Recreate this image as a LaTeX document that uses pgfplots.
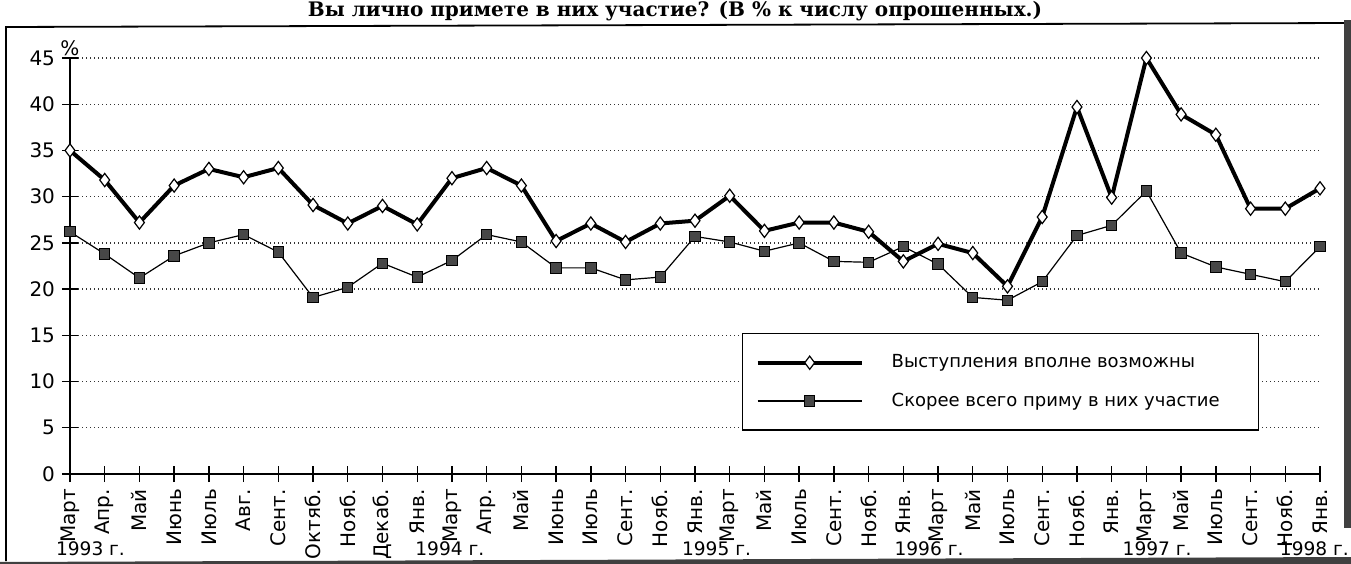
\documentclass[border=0pt]{standalone}
\usepackage{fontspec}
\setmainfont{DejaVu Sans}
\newfontfamily\titlefont{DejaVu Serif}
\usepackage{pgfplots}
\pgfplotsset{compat=1.18}
\begin{document}
\begin{tikzpicture}
\path[use as bounding box] (0,0) rectangle (675.5bp,282bp);
\draw[line width=0.9bp] (3bp,1.5bp) -- (3bp,268.5bp) -- (675.5bp,270.5bp);
\begin{axis}[
  at={(35bp,45bp)}, anchor=south west,
  scale only axis, width=625bp, height=208bp,
  xmin=0, xmax=36, ymin=0, ymax=45,
  axis lines*=left,
  axis line style={line width=0.8bp},
  xtick={0,...,36},
  xticklabels={Март,Апр.,Май,Июнь,Июль,Авг.,Сент.,Октяб.,Нояб.,Декаб.,Янв.,Март,Апр.,Май,Июнь,Июль,Сент.,Нояб.,Янв.,Март,Май,Июль,Сент.,Нояб.,Янв.,Март,Май,Июль,Сент.,Нояб.,Янв.,Март,Май,Июль,Сент.,Нояб.,Янв.},
  x tick label style={rotate=90, anchor=east, font=\fontsize{10bp}{11bp}\selectfont},
  ytick={0,5,...,45},
  y tick label style={font=\fontsize{10bp}{11bp}\selectfont},
  /pgf/number format/assume math mode=true,
  tick align=center, major tick length=8bp,
  tick style={black, line width=0.7bp},
  ymajorgrids,
  grid style={black!80, line width=0.7bp, dash pattern=on 0.7bp off 1.3bp},
  clip=false,
  legend style={at={(0.5376,0.339)}, anchor=north west, draw=black, line width=0.7bp,
    inner xsep=6.5bp, inner ysep=8.5bp, row sep=7bp,
    font=\fontsize{9bp}{11bp}\selectfont},
  legend cell align=left,
  legend image code/.code={\draw[#1, mark repeat=2, mark phase=2] plot coordinates {(0bp,0bp) (26bp,0bp) (52bp,0bp)};},
  /tikz/every odd column/.append style={column sep=12bp},
]
\addplot[black, line width=2bp, mark=diamond*, mark size=3.3bp,
  mark options={fill=white, draw=black, line width=0.6bp, solid}] coordinates {
(0,35.0) (1,31.8) (2,27.2) (3,31.2) (4,33.0) (5,32.1) (6,33.1) (7,29.1) (8,27.1) (9,29.0)
(10,27.0) (11,32.0) (12,33.1) (13,31.2) (14,25.2) (15,27.1) (16,25.1) (17,27.1) (18,27.4)
(19,30.1) (20,26.3) (21,27.2) (22,27.2) (23,26.2) (24,23.0) (25,24.9) (26,23.9) (27,20.3)
(28,27.8) (29,39.7) (30,29.9) (31,45.0) (32,38.9) (33,36.7) (34,28.7) (35,28.7) (36,30.9)};
\addplot[black, line width=0.6bp, mark=square*, mark size=2.6bp,
  mark options={fill=black!72, draw=black, line width=0.5bp, solid}] coordinates {
(0,26.2) (1,23.8) (2,21.2) (3,23.6) (4,25.0) (5,25.9) (6,24.0) (7,19.1) (8,20.2) (9,22.8)
(10,21.3) (11,23.1) (12,25.9) (13,25.1) (14,22.3) (15,22.3) (16,21.0) (17,21.3) (18,25.7)
(19,25.1) (20,24.1) (21,25.0) (22,23.0) (23,22.9) (24,24.6) (25,22.7) (26,19.1) (27,18.8)
(28,20.8) (29,25.8) (30,26.9) (31,30.6) (32,23.9) (33,22.4) (34,21.6) (35,20.8) (36,24.6)};
\legend{Выступления вполне возможны, Скорее всего приму в них участие\hspace*{11bp}}
\node[anchor=south, inner sep=1bp, font=\fontsize{10bp}{11bp}\selectfont] at (rel axis cs:0,1) {\%};
\foreach \xx/\yy in {0.59/1993, 10.94/1994, 18.62/1995, 24.74/1996, 31.31/1997, 35.84/1998}{
  \edef\tmp{\noexpand\node[anchor=base, yshift=-40.5bp, font=\noexpand\fontsize{9.3bp}{11bp}\noexpand\selectfont] at (axis cs:\xx,0) {\yy\space г.};}
  \tmp
}
\end{axis}
\node[anchor=base, inner sep=0pt, font=\titlefont\bfseries\fontsize{10bp}{12bp}\selectfont] at (337.5bp,273.6bp) {Вы лично примете в них участие? (В \% к числу опрошенных.)};
\fill[black!75] (672bp,18bp) rectangle (675.5bp,272bp);
\fill[black!75] (0bp,0bp) -- (675.5bp,0bp) -- (675.5bp,3.5bp) -- (0bp,1bp) -- cycle;
\end{tikzpicture}
\end{document}
